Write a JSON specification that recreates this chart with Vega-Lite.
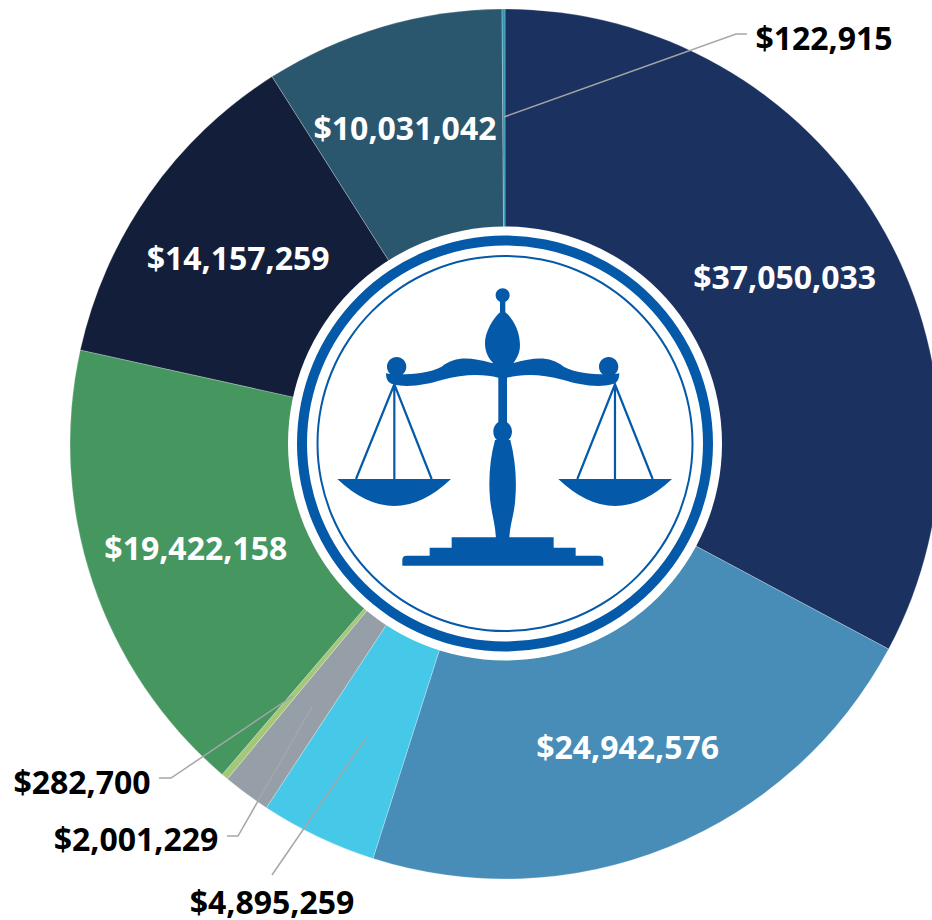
{
"$schema":"https://vega.github.io/schema/vega-lite/v6.json",
"width":932,"height":920,"padding":0,"autosize":{"type":"none"},"background":"#ffffff",
"config":{"view":{"stroke":null}},
"datasets":{
"slices":[
{"i":1,"label":"$37,050,033","v":37050033},
{"i":2,"label":"$24,942,576","v":24942576},
{"i":3,"label":"$4,895,259","v":4895259},
{"i":4,"label":"$2,001,229","v":2001229},
{"i":5,"label":"$282,700","v":282700},
{"i":6,"label":"$19,422,158","v":19422158},
{"i":7,"label":"$14,157,259","v":14157259},
{"i":8,"label":"$10,031,042","v":10031042},
{"i":9,"label":"$122,915","v":122915}],
"leaders":[
{"k":"a","n":1,"x":504,"y":117},{"k":"a","n":2,"x":736,"y":34},{"k":"a","n":3,"x":747,"y":34},
{"k":"b","n":1,"x":293,"y":696},{"k":"b","n":2,"x":171,"y":778},{"k":"b","n":3,"x":159,"y":778},
{"k":"c","n":1,"x":312,"y":707},{"k":"c","n":2,"x":238,"y":836},{"k":"c","n":3,"x":227,"y":836},
{"k":"d","n":1,"x":366,"y":738},{"k":"d","n":2,"x":272,"y":875}],
"outer":[
{"label":"$122,915","x":824,"y":37},
{"label":"$282,700","x":82,"y":781},
{"label":"$2,001,229","x":136,"y":838},
{"label":"$4,895,259","x":272,"y":901}],
"shifted":[{"label":"$10,031,042","x":405,"y":127}],
"emblem":[{"x":285,"y":225}]
},
"layer":[
{"data":{"name":"slices"},
 "mark":{"type":"arc","outerRadius":435,"innerRadius":0,"stroke":"#ffffff","strokeWidth":0.25},
 "encoding":{"x":{"value":505},"y":{"value":444},
  "theta":{"field":"v","type":"quantitative","stack":true},
  "order":{"field":"i","type":"quantitative"},
  "color":{"field":"label","type":"nominal","legend":null,"scale":{
   "domain":["$37,050,033","$24,942,576","$4,895,259","$2,001,229","$282,700","$19,422,158","$14,157,259","$10,031,042","$122,915"],
   "range":["#1b3260","#478db7","#46c9e8","#969fa8","#a5c878","#45965f","#131f3a","#2a566e","#2a96b0"]}}}},
{"data":{"name":"slices"},
 "mark":{"type":"text","radius":326,"dy":3,"fontSize":32,"fontWeight":"bold","font":"Noto Sans","color":"#ffffff","align":"center","baseline":"middle"},
 "encoding":{"x":{"value":505},"y":{"value":444},
  "theta":{"field":"v","type":"quantitative","stack":true},
  "order":{"field":"i","type":"quantitative"},
  "text":{"condition":{"test":"datum.v > 11000000","field":"label"},"value":""}}},
{"data":{"name":"emblem"},"mark":{"type":"arc","theta":0,"theta2":6.2832,"innerRadius":0,"outerRadius":217,"color":"#ffffff"},"encoding":{"x":{"value":505},"y":{"value":443.5}}},
{"data":{"name":"emblem"},"mark":{"type":"arc","theta":0,"theta2":6.2832,"innerRadius":198,"outerRadius":208,"color":"#0559a9"},"encoding":{"x":{"value":505},"y":{"value":443.5}}},
{"data":{"name":"emblem"},"mark":{"type":"arc","theta":0,"theta2":6.2832,"innerRadius":186.5,"outerRadius":188.5,"color":"#0559a9"},"encoding":{"x":{"value":505},"y":{"value":443.5}}},
{"data":{"name":"emblem"},
 "mark":{"type":"point","filled":true,"opacity":1,"fill":"#0559a9","stroke":null,"size":0.4444,
  "shape":"M632 211a21 21 0 1 0 42 0a21 21 0 1 0 -42 0Z M306 425a29 29 0 1 0 58 0a29 29 0 1 0 -58 0Z M942 425a29 29 0 1 0 58 0a29 29 0 1 0 -58 0Z M640 410L666 410L666 600L640 600Z M157 762L498 762Q328 924 157 762Z M820 762L1161 762Q990 924 820 762Z M500 937L806 937L806 968L872 968L872 992L940 992Q955 992 955 1005L955 1022L352 1022L352 1005Q352 992 365 992L434 992L434 968L500 968Z"},
 "encoding":{"x":{"field":"x","type":"quantitative","axis":null,"scale":{"domain":[0,932],"range":[0,932],"nice":false,"zero":false}},"y":{"field":"y","type":"quantitative","axis":null,"scale":{"domain":[0,920],"range":[0,920],"nice":false,"zero":false}}}},
{"data":{"name":"emblem"},
 "mark":{"type":"point","filled":true,"opacity":1,"fill":"#0559a9","stroke":null,"size":0.4444,
  "shape":"M645 225L661 225L661 262C685 280 705 320 705 360C705 385 695 400 685 415L625 415C610 400 600 380 600 355C600 320 625 280 645 262Z M625 620a28 32 0 1 0 56 0a28 32 0 1 0 -56 0Z"},
 "encoding":{"x":{"field":"x","type":"quantitative"},"y":{"field":"y","type":"quantitative"}}},
{"data":{"name":"emblem"},
 "mark":{"type":"point","filled":true,"opacity":1,"fill":"#0559a9","stroke":null,"size":0.4444,
  "shape":"M303 445C330 450 420 452 470 425C510 395 550 395 620 414L653 414L653 458L640 458C600 448 540 445 470 465C430 477 370 490 325 478C310 474 303 465 303 445Z M1003 445C976 450 886 452 836 425C796 395 756 395 686 414L653 414L653 458L666 458C706 448 766 445 836 465C876 477 936 490 981 478C996 474 1003 465 1003 445Z M630 645C615 700 610 760 615 820C620 870 630 890 633 940L673 940C676 890 688 870 691 820C696 760 690 700 676 645Z"},
 "encoding":{"x":{"field":"x","type":"quantitative"},"y":{"field":"y","type":"quantitative"}}},
{"data":{"name":"emblem"},
 "mark":{"type":"point","filled":false,"opacity":1,"fill":null,"stroke":"#0559a9","strokeWidth":2.2,"size":0.4444,
  "shape":"M213 762L328 478L440 762 M328 478L328 762 M877 762L990 478L1103 762 M990 478L990 762"},
 "encoding":{"x":{"field":"x","type":"quantitative"},"y":{"field":"y","type":"quantitative"}}},
{"data":{"name":"leaders"},
 "mark":{"type":"line","color":"#a6a6a6","strokeWidth":1.5,"interpolate":"linear"},
 "encoding":{"x":{"field":"x","type":"quantitative"},"y":{"field":"y","type":"quantitative"},"detail":{"field":"k"},"order":{"field":"n","type":"quantitative"}}},
{"data":{"name":"shifted"},
 "mark":{"type":"text","dy":3,"fontSize":32,"fontWeight":"bold","font":"Noto Sans","color":"#ffffff","align":"center","baseline":"middle"},
 "encoding":{"x":{"field":"x","type":"quantitative"},"y":{"field":"y","type":"quantitative"},"text":{"field":"label"}}},
{"data":{"name":"outer"},
 "mark":{"type":"text","dy":3,"fontSize":32,"fontWeight":"bold","font":"Noto Sans","color":"#000000","align":"center","baseline":"middle"},
 "encoding":{"x":{"field":"x","type":"quantitative"},"y":{"field":"y","type":"quantitative"},"text":{"field":"label"}}}
]
}
